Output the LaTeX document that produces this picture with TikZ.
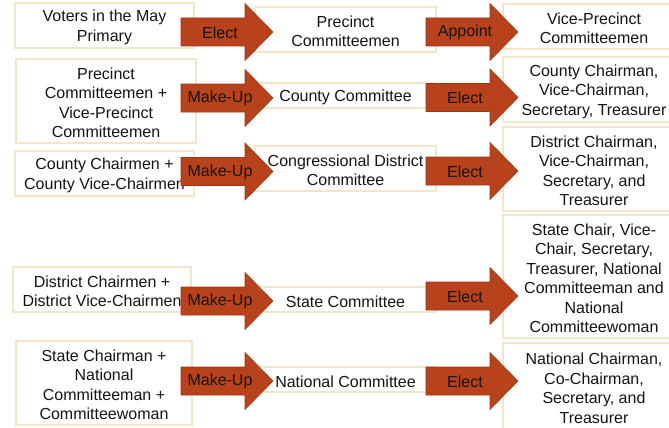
\documentclass[tikz,border=0pt]{standalone}
\usepackage{fontspec}
\setmainfont{Liberation Sans}
\definecolor{arrowfill}{RGB}{184,66,28}
\definecolor{arrowline}{RGB}{158,54,20}
\definecolor{boxline}{RGB}{241,229,202}
\definecolor{txt}{RGB}{20,20,20}
\tikzset{
  boxframe/.style={draw=boxline, line width=1.2pt, fill=white, inner sep=0pt},
  boxtext/.style={inner sep=0pt, align=center, text=txt, font=\fontsize{16}{19.5}\selectfont},
  arrowlabel/.style={inner sep=0pt, text=txt, font=\fontsize{16}{19.5}\selectfont},
}
% name, cx, cy, w, h, text
\newcommand\boxnode[6]{%
  \node[boxframe, minimum width=#4pt, minimum height=#5pt] (#1) at (#2,#3) {};
  \node[boxtext] (#1t) at (#2,#3+2) {#6};}
\newcommand\blkarrow[4]{%
  \filldraw[fill=arrowfill, draw=arrowline, line width=0.6pt]
    (#2,#3-14) -- (#2+64,#3-14) -- (#2+64,#3-28.5) -- (#2+92,#3)
    -- (#2+64,#3+28.5) -- (#2+64,#3+14) -- (#2,#3+14) -- cycle;
  \node[arrowlabel] (#1) at (#2+39,#3+0.5) {#4};}
\begin{document}
\begin{tikzpicture}[x=1pt,y=-1pt]
\useasboundingbox (0,0) rectangle (669,428);
\clip (0,0) rectangle (669,428);
\fill[white] (0,0) rectangle (669,428);
% column 1
\boxnode{b1}{104.5}{25.5}{179}{45}{Voters in the May\\Primary}
\boxnode{b2}{106}{101}{180}{84}{Precinct\\Committeemen +\\Vice-Precinct\\Committeemen}
\boxnode{b3}{104.5}{173.5}{179}{45}{County Chairmen +\\County Vice-Chairmen}
\boxnode{b4}{102}{289.5}{178}{45}{District Chairmen +\\District Vice-Chairmen}
\boxnode{b5}{104}{383}{176}{84}{State Chairman +\\National\\Committeeman +\\Committeewoman}
% column 2
\boxnode{c1}{345.5}{29.5}{181}{45}{Precinct\\Committeemen}
\boxnode{c2}{345.5}{95.5}{181}{25}{County Committee}
\boxnode{c3}{345.5}{168.5}{181}{45}{Congressional District\\Committee}
\boxnode{c4}{345.5}{299.5}{181}{25}{State Committee}
\boxnode{c5}{345.5}{379.5}{181}{25}{National Committee}
% column 3
\boxnode{d1}{594}{26.5}{182}{45}{Vice-Precinct\\Committeemen}
\boxnode{d2}{594}{89.5}{182}{65}{County Chairman,\\Vice-Chairman,\\Secretary, Treasurer}
\boxnode{d3}{594}{169}{182}{84}{District Chairman,\\Vice-Chairman,\\Secretary, and\\Treasurer}
\boxnode{d4}{594}{276.5}{182}{123}{State Chair, Vice-\\Chair, Secretary,\\Treasurer, National\\Committeeman and\\National\\Committeewoman}
\boxnode{d5}{594}{386.5}{182}{87}{National Chairman,\\Co-Chairman,\\Secretary, and\\Treasurer}
% arrows column 1
\blkarrow{a1}{181}{32}{Elect}
\blkarrow{a2}{181}{98}{Make-Up}
\blkarrow{a3}{181}{171.5}{Make-Up}
\blkarrow{a4}{181}{301}{Make-Up}
\blkarrow{a5}{181}{381}{Make-Up}
% arrows column 2
\blkarrow{e1}{426}{32}{Appoint}
\blkarrow{e2}{426}{97.5}{Elect}
\blkarrow{e3}{426}{171}{Elect}
\blkarrow{e4}{426}{296}{Elect}
\blkarrow{e5}{426}{381}{Elect}
\end{tikzpicture}
\end{document}
